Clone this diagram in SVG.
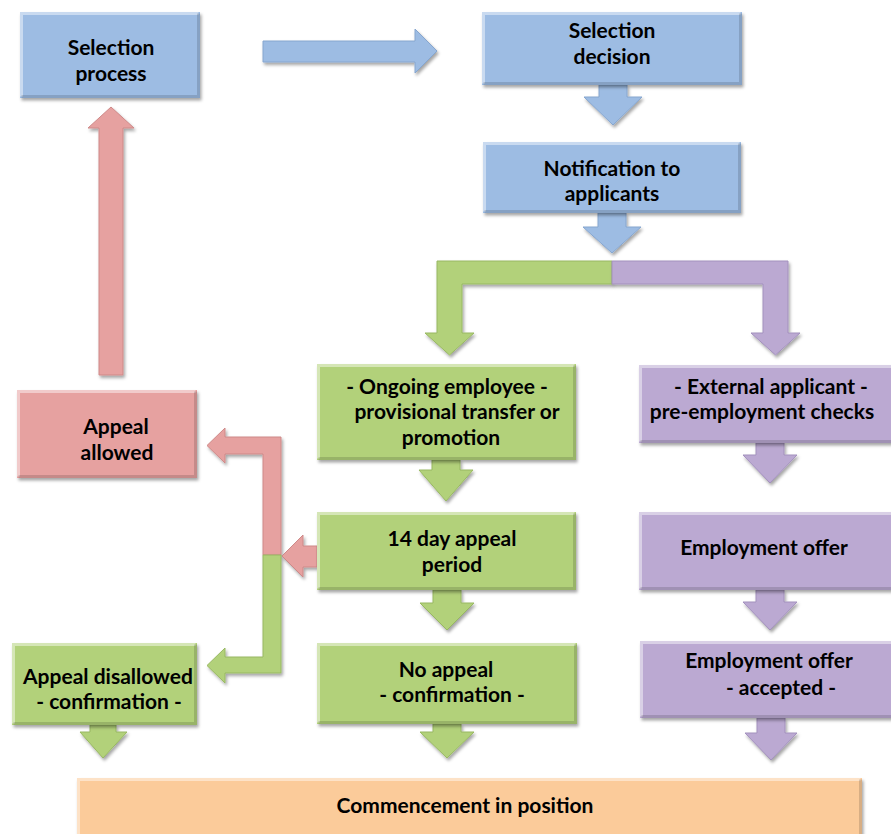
<svg xmlns="http://www.w3.org/2000/svg" width="891" height="834" viewBox="0 0 891 834">
<defs>
<filter id="sh" x="-10%" y="-10%" width="120%" height="130%">
<feDropShadow dx="1.5" dy="2.5" stdDeviation="1.5" flood-color="#000" flood-opacity="0.35"/>
</filter>
<style>
.box{filter:url(#sh)}
.blue{fill:#9DBCE3}
.green{fill:#B2D17A}
.purple{fill:#BBA9D2}
.red{fill:#E6A1A0}
.orange{fill:#FBCB9A}
.hl{fill:none;stroke:#fff;stroke-opacity:0.45;stroke-width:3}
.dk{fill:none;stroke:#000;stroke-opacity:0.14;stroke-width:3}
.arr{filter:url(#sh);stroke-width:1;stroke-linejoin:miter}
.ablue{fill:#9DBCE3;stroke:#86A6CF}
.agreen{fill:#B2D17A;stroke:#98B862}
.apurple{fill:#BBA9D2;stroke:#A391BD}
.ared{fill:#E6A1A0;stroke:#CE8988}
text{font-family:Lato,"Liberation Sans",Arial,sans-serif;font-weight:700;font-size:21px;fill:#000;text-anchor:middle}
</style>
</defs>

<g id="connectors">
<path class="arr ablue" d="M263,41 H415 V29 L437,51 L415,73 V62 H263 Z"/>
<path class="arr ablue" d="M599,85 H627 V97 H642 L613,125 L584,97 H599 Z"/>
<path class="arr ablue" d="M598,213 H626 V227 H641 L612,253 L583,227 H598 Z"/>
<path class="arr agreen" d="M612,261 H437 V333 H425 L449.5,355 L474,333 H462 V284 H612 Z"/>
<path class="arr apurple" d="M612,261 H788 V333 H800 L775.5,355 L751,333 H763 V284 H612 Z"/>
<path class="arr agreen" d="M432,460 H460 V470 H473 L446,501 L419,470 H432 Z"/>
<path class="arr apurple" d="M756,443 H784 V455 H797 L770,483 L743,455 H756 Z"/>
<path class="arr agreen" d="M433,590 H461 V603 H474 L447,630 L420,603 H433 Z"/>
<path class="arr apurple" d="M756,590 H784 V602 H797 L770,630 L743,602 H756 Z"/>
<path class="arr agreen" d="M90,725 H116 V732 H127 L103,758 L80,732 H90 Z"/>
<path class="arr agreen" d="M433,724 H461 V732 H474 L447,758 L420,732 H433 Z"/>
<path class="arr apurple" d="M757,718 H785 V733 H797 L771,760 L745,733 H757 Z"/>
<path class="arr ared" d="M99,375 V128 H88 L111,107 L134,128 H123 V375 Z"/>
<path class="arr ared" d="M281,555 V437 H225 V428 L207,445.5 L225,463 V454 H263 V555 Z"/>
<path class="arr agreen" d="M263,555 V657 H225 V648 L207,665.5 L225,683 V673 H281 V555 Z"/>
<path class="arr ared" d="M317,546 H303 V535 L282,556 L303,577 V567 H317 Z"/>
</g>

<g id="selection-process">
<rect class="box blue" x="20" y="12" width="180" height="86"/>
<polyline class="hl" points="21.5,96.5 21.5,13.5 198.5,13.5"/>
<polyline class="dk" points="21.5,96.5 198.5,96.5 198.5,13.5"/>
<text x="111" y="55">Selection</text>
<text x="111" y="81">process</text>
</g>

<g id="selection-decision">
<rect class="box blue" x="482" y="12" width="260" height="73"/>
<polyline class="hl" points="483.5,83.5 483.5,13.5 740.5,13.5"/>
<polyline class="dk" points="483.5,83.5 740.5,83.5 740.5,13.5"/>
<text x="612" y="38">Selection</text>
<text x="612" y="64">decision</text>
</g>

<g id="notification">
<rect class="box blue" x="483" y="142" width="258" height="71"/>
<polyline class="hl" points="484.5,211.5 484.5,143.5 739.5,143.5"/>
<polyline class="dk" points="484.5,211.5 739.5,211.5 739.5,143.5"/>
<text x="612" y="176">Notification to</text>
<text x="612" y="201">applicants</text>
</g>

<g id="ongoing-employee">
<rect class="box green" x="317" y="364" width="259" height="96"/>
<polyline class="hl" points="318.5,458.5 318.5,365.5 574.5,365.5"/>
<polyline class="dk" points="318.5,458.5 574.5,458.5 574.5,365.5"/>
<text x="447" y="394">- Ongoing employee -</text>
<text x="457" y="419">provisional transfer or</text>
<text x="451" y="445">promotion</text>
</g>

<g id="external-applicant">
<rect class="box purple" x="639" y="365" width="262" height="78"/>
<polyline class="hl" points="640.5,441.5 640.5,366.5 899,366.5"/>
<polyline class="dk" points="640.5,441.5 899,441.5"/>
<text x="771" y="394">- External applicant -</text>
<text x="762" y="419">pre-employment checks</text>
</g>

<g id="appeal-allowed">
<rect class="box red" x="17" y="390" width="180" height="88"/>
<polyline class="hl" points="18.5,476.5 18.5,391.5 195.5,391.5"/>
<polyline class="dk" points="18.5,476.5 195.5,476.5 195.5,391.5"/>
<text x="116" y="434">Appeal</text>
<text x="117" y="460">allowed</text>
</g>

<g id="fourteen-day">
<rect class="box green" x="317" y="512" width="259" height="78"/>
<polyline class="hl" points="318.5,588.5 318.5,513.5 574.5,513.5"/>
<polyline class="dk" points="318.5,588.5 574.5,588.5 574.5,513.5"/>
<text x="452" y="546">14 day appeal</text>
<text x="452" y="572">period</text>
</g>

<g id="employment-offer">
<rect class="box purple" x="639" y="512" width="262" height="78"/>
<polyline class="hl" points="640.5,588.5 640.5,513.5 899,513.5"/>
<polyline class="dk" points="640.5,588.5 899,588.5"/>
<text x="764" y="555">Employment offer</text>
</g>

<g id="appeal-disallowed">
<rect class="box green" x="12" y="643" width="185" height="82"/>
<polyline class="hl" points="13.5,723.5 13.5,644.5 195.5,644.5"/>
<polyline class="dk" points="13.5,723.5 195.5,723.5 195.5,644.5"/>
<text x="108" y="684">Appeal disallowed</text>
<text x="109" y="709">- confirmation -</text>
</g>

<g id="no-appeal">
<rect class="box green" x="317" y="643" width="260" height="81"/>
<polyline class="hl" points="318.5,722.5 318.5,644.5 575.5,644.5"/>
<polyline class="dk" points="318.5,722.5 575.5,722.5 575.5,644.5"/>
<text x="446" y="677">No appeal</text>
<text x="452" y="702">- confirmation -</text>
</g>

<g id="offer-accepted">
<rect class="box purple" x="640" y="641" width="262" height="77"/>
<polyline class="hl" points="641.5,716.5 641.5,642.5 899,642.5"/>
<polyline class="dk" points="641.5,716.5 899,716.5"/>
<text x="769" y="668">Employment offer</text>
<text x="781" y="695">- accepted -</text>
</g>

<g id="commencement">
<rect class="box orange" x="77" y="778" width="785" height="70"/>
<polyline class="hl" points="78.5,834 78.5,779.5 860.5,779.5"/>
<polyline class="dk" points="860.5,779.5 860.5,834"/>
<text x="465" y="813">Commencement in position</text>
</g>
</svg>
